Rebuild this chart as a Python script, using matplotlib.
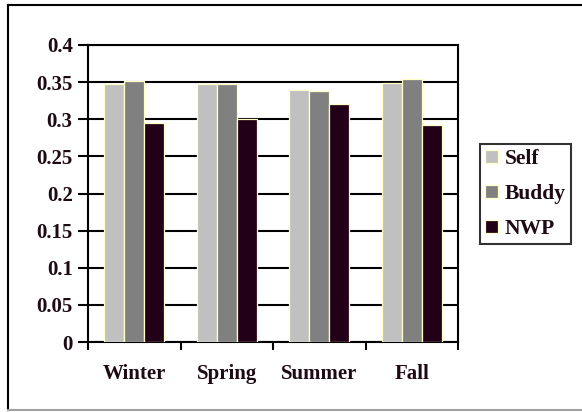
import matplotlib
matplotlib.use("Agg")
import matplotlib.pyplot as plt
import numpy as np
from matplotlib.lines import Line2D

seasons = ["Winter", "Spring", "Summer", "Fall"]
series = ["Self", "Buddy", "NWP"]
self_vals = [0.348, 0.348, 0.340, 0.349]
buddy_vals = [0.352, 0.348, 0.338, 0.354]
nwp_vals = [0.295, 0.301, 0.320, 0.292]

colors = ["#c0c0c0", "#808080", "#220018"]
EDGE = "#ffffc8"
TEXT = "#1e0a14"

plt.rcParams["font.family"] = ["Liberation Serif", "DejaVu Serif"]
plt.rcParams["font.weight"] = "bold"

fig = plt.figure(figsize=(5.82, 4.12), dpi=100)
ax = fig.add_axes([88 / 582, 1 - 342 / 412, 370 / 582, 297 / 412])

x = np.arange(len(seasons))
bw = 0.65 / 3
for i, (name, vals) in enumerate(zip(series, [self_vals, buddy_vals, nwp_vals])):
    ax.bar(x + (i - 1) * bw, vals, width=bw, color=colors[i], edgecolor=EDGE,
           linewidth=0.9, label=name, zorder=3)

ax.set_xlim(-0.5, len(seasons) - 0.5)
ax.set_ylim(0, 0.4)
ax.set_yticks(np.arange(0, 0.401, 0.05))
ax.set_yticklabels(["0", "0.05", "0.1", "0.15", "0.2", "0.25", "0.3", "0.35", "0.4"])
ax.yaxis.grid(True, color="black", linewidth=1.5, zorder=0)
ax.set_axisbelow(True)

# category boundaries carry the ticks, centres carry the labels
ax.set_xticks(np.arange(-0.5, len(seasons), 1.0))
ax.set_xticklabels([])
ax.set_xticks(x, minor=True)
ax.set_xticklabels(seasons, minor=True)
ax.tick_params(axis="x", which="major", length=6, width=1.5, direction="out")
ax.tick_params(axis="x", which="minor", length=0, pad=16)
ax.tick_params(axis="y", length=7, width=1.5, direction="out", pad=4)
for lab in ax.get_xticklabels(minor=True) + ax.get_yticklabels():
    lab.set_fontsize(15)
    lab.set_fontweight("bold")
    lab.set_color(TEXT)

for s in ax.spines.values():
    s.set_linewidth(1.5)
    s.set_color("black")

leg = ax.legend(loc="center left", bbox_to_anchor=(480 / 582, 1 - 194 / 412),
                bbox_transform=fig.transFigure, frameon=True, fancybox=False,
                prop={"size": 15.5, "weight": "bold"}, handlelength=0.6,
                handleheight=0.6, handletextpad=0.3, labelspacing=0.7,
                borderpad=0.25, borderaxespad=0)
leg.get_frame().set_edgecolor("black")
leg.get_frame().set_linewidth(1.5)
for t in leg.get_texts():
    t.set_color(TEXT)

# outer chart frame
fig.add_artist(Line2D([8 / 582, 8 / 582], [1 - 5 / 412, 1 - 410 / 412],
                      transform=fig.transFigure, color="black", linewidth=1.5))
fig.add_artist(Line2D([8 / 582, 1], [1 - 5 / 412, 1 - 5 / 412],
                      transform=fig.transFigure, color="black", linewidth=1.5))
fig.add_artist(Line2D([8 / 582, 1], [1 - 410 / 412, 1 - 410 / 412],
                      transform=fig.transFigure, color="#a0a0a0", linewidth=1.5))

fig.savefig("out.png", dpi=100)
